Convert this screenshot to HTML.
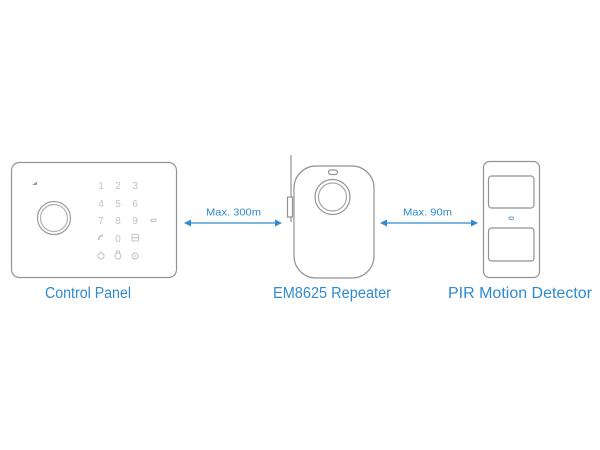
<!DOCTYPE html>
<html><head><meta charset="utf-8"><style>
html,body{margin:0;padding:0;background:#fff;}
svg{display:block;}
</style></head><body>
<svg width="600" height="450" viewBox="0 0 600 450" xmlns="http://www.w3.org/2000/svg">
<rect width="600" height="450" fill="#fff"/>
<g fill="none" stroke="#929292" stroke-width="1.2">
  <!-- Control panel -->
  <rect x="11.5" y="162.5" width="165" height="115" rx="8"/>
  <circle cx="54" cy="218" r="16.5" stroke="#9a9a9a"/>
  <circle cx="54" cy="218" r="13.5" stroke="#b0b0b0"/>
  <!-- Repeater -->
  <rect x="294" y="166" width="80" height="112" rx="22"/>
  <circle cx="332.5" cy="197" r="17.5"/>
  <circle cx="332.5" cy="197" r="14" stroke="#a8a8a8"/>
  <rect x="328.5" y="170" width="9" height="4.5" rx="2.2"/>
  <line x1="291" y1="155" x2="291" y2="197"/>
  <rect x="287.5" y="197" width="5" height="20"/>
  <line x1="291" y1="217" x2="291" y2="222"/>
  <!-- PIR -->
  <rect x="483.5" y="161.5" width="56" height="116" rx="6"/>
  <rect x="488.5" y="176" width="45.5" height="32" rx="3"/>
  <rect x="488.5" y="228" width="45.5" height="33" rx="3"/>
</g>
<rect x="509" y="217" width="4.5" height="2.5" rx="1.2" fill="none" stroke="#6ea4cf" stroke-width="0.9"/>
<!-- signal icon -->
<polygon points="32,185 37,181.5 37,185" fill="#9a9a9a"/>
<!-- keypad -->
<g font-family="'Liberation Sans', sans-serif" font-size="10" fill="#c2c2c2" text-anchor="middle">
  <text x="101" y="189">1</text><text x="118" y="189">2</text><text x="135" y="189">3</text>
  <text x="101" y="207">4</text><text x="118" y="207">5</text><text x="135" y="207">6</text>
  <text x="101" y="224">7</text><text x="118" y="224">8</text><text x="135" y="224">9</text>
  <text x="118" y="242">0</text>
</g>
<g fill="none" stroke="#c2c2c2" stroke-width="1">
  <path d="M98.5,240 Q99,235.5 103,235.5" stroke-width="1.8"/>
  <rect x="132" y="234.5" width="6.5" height="6.5" rx="1"/>
  <line x1="132" y1="237.8" x2="138.5" y2="237.8"/>
  <rect x="151" y="219" width="5" height="2.5" rx="1"/>
  <circle cx="101" cy="256" r="3"/><line x1="101" y1="251" x2="101" y2="253"/>
  <circle cx="118" cy="256" r="3"/><path d="M116.5,253 V251.5 Q118,250 119.5,251.5 V253"/>
  <circle cx="135" cy="256" r="3"/><line x1="135" y1="254.5" x2="135" y2="257.5"/>
</g>
<!-- arrows -->
<g stroke="#2f8ad0" stroke-width="1.3" fill="#2f8ad0">
  <line x1="188" y1="223" x2="278" y2="223"/>
  <polygon points="184,223 191,219.5 191,226.5" stroke="none"/>
  <polygon points="282,223 275,219.5 275,226.5" stroke="none"/>
  <line x1="384" y1="223" x2="474" y2="223"/>
  <polygon points="380,223 387,219.5 387,226.5" stroke="none"/>
  <polygon points="478,223 471,219.5 471,226.5" stroke="none"/>
</g>
<g font-family="'Liberation Sans', sans-serif" fill="#2f8ad0">
  <text x="206" y="215.5" font-size="10.5" textLength="55" lengthAdjust="spacingAndGlyphs">Max. 300m</text>
  <text x="403" y="215.5" font-size="10.5" textLength="49" lengthAdjust="spacingAndGlyphs">Max. 90m</text>
  <text x="45" y="298" font-size="15.5" textLength="86" lengthAdjust="spacingAndGlyphs">Control Panel</text>
  <text x="273" y="298" font-size="15.5" textLength="118" lengthAdjust="spacingAndGlyphs">EM8625 Repeater</text>
  <text x="448" y="298" font-size="15.5" textLength="144" lengthAdjust="spacingAndGlyphs">PIR  Motion Detector</text>
</g>
</svg>
</body></html>
